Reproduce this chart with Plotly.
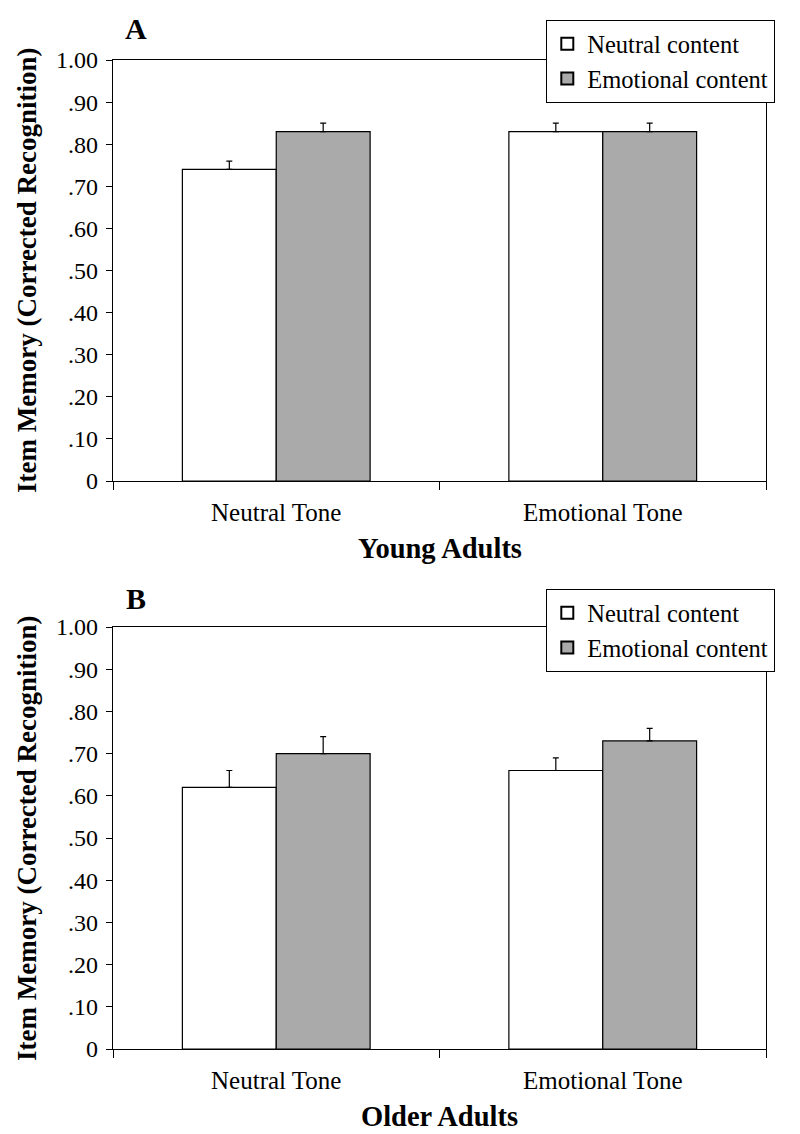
import plotly.graph_objects as go

categories = ["Neutral Tone", "Emotional Tone"]
series_names = ["Neutral content", "Emotional content"]
young_neutral = [0.74, 0.83]
young_emotional = [0.83, 0.83]
young_neutral_err = [0.02, 0.02]
young_emotional_err = [0.02, 0.02]
older_neutral = [0.62, 0.66]
older_emotional = [0.70, 0.73]
older_neutral_err = [0.04, 0.03]
older_emotional_err = [0.04, 0.03]
ytick_vals = [0, 0.1, 0.2, 0.3, 0.4, 0.5, 0.6, 0.7, 0.8, 0.9, 1.0]
ytick_text = ["0", ".10", ".20", ".30", ".40", ".50", ".60", ".70", ".80", ".90", "1.00"]

# page body has an 8px default margin; size the figure to fit the window
OFF = 8
W, H = 800 - OFF, 1134 - OFF
FONT = "Liberation Serif"
colors = ["#ffffff", "#aaaaaa"]

def px_x(p):
    return (p - OFF) / W

def px_y(p):
    return 1 - (p - OFF) / H

fig = go.Figure()

panels = [
    ("x", "y", "legend", young_neutral, young_emotional, young_neutral_err, young_emotional_err),
    ("x2", "y2", "legend2", older_neutral, older_emotional, older_neutral_err, older_emotional_err),
]
for xa, ya, lg, vn, ve, en, ee in panels:
    for name, vals, err, col in [(series_names[0], vn, en, colors[0]), (series_names[1], ve, ee, colors[1])]:
        fig.add_trace(go.Bar(
            x=categories, y=vals, name=name, xaxis=xa, yaxis=ya, legend=lg,
            marker=dict(color=col, line=dict(color="#000000", width=1.2)),
            error_y=dict(type="data", symmetric=False, array=err, arrayminus=[0] * len(err),
                         color="#000000", thickness=1.2, width=3),
        ))

xdom = [px_x(113), px_x(766)]
axis_common_x = dict(
    showline=True, linecolor="#000000", linewidth=1.3, mirror=True,
    ticks="outside", ticklen=8, tickcolor="#000000", tickwidth=1.3,
    tickson="boundaries", showgrid=False, zeroline=False,
    tickfont=dict(family=FONT, size=25, color="#000000"),
    ticklabelstandoff=9, automargin=False, domain=xdom,
)
axis_common_y = dict(
    showline=True, linecolor="#000000", linewidth=1.3, mirror=True,
    ticks="outside", ticklen=6, tickcolor="#000000", tickwidth=1.3,
    range=[0, 1], tickvals=ytick_vals, ticktext=ytick_text,
    showgrid=False, zeroline=False,
    tickfont=dict(family=FONT, size=24, color="#000000"),
    ticklabelstandoff=3, automargin=False,
)

legend_common = dict(
    xanchor="left", yanchor="top",
    bgcolor="#ffffff", bordercolor="#000000", borderwidth=1.3,
    font=dict(family=FONT, size=24.5, color="#000000"),
    tracegroupgap=0, itemsizing="constant",
)

fig.update_layout(
    width=W, height=H,
    margin=dict(l=0, r=0, t=0, b=0),
    paper_bgcolor="#ffffff", plot_bgcolor="#ffffff",
    barmode="group", bargap=0.425, bargroupgap=0,
    xaxis=dict(**axis_common_x, anchor="y"),
    yaxis=dict(**axis_common_y, domain=[px_y(481), px_y(60)], anchor="x"),
    xaxis2=dict(**axis_common_x, anchor="y2"),
    yaxis2=dict(**axis_common_y, domain=[px_y(1049), px_y(627)], anchor="x2"),
    legend=dict(x=px_x(546), y=px_y(20), **legend_common),
    legend2=dict(x=px_x(546), y=px_y(589), **legend_common),
    showlegend=True,
)

annos = [
    dict(text="<b>A</b>", x=px_x(136), y=px_y(29), size=30, angle=0),
    dict(text="<b>B</b>", x=px_x(136), y=px_y(598), size=30, angle=0),
    dict(text="<b>Item Memory (Corrected Recognition)</b>", x=px_x(27), y=px_y(270), size=27, angle=-90),
    dict(text="<b>Item Memory (Corrected Recognition)</b>", x=px_x(27), y=px_y(838), size=27, angle=-90),
    dict(text="<b>Young Adults</b>", x=px_x(440), y=px_y(548), size=28.5, angle=0),
    dict(text="<b>Older Adults</b>", x=px_x(440), y=px_y(1116), size=28.5, angle=0),
]
for a in annos:
    fig.add_annotation(text=a["text"], x=a["x"], y=a["y"], xref="paper", yref="paper",
                       xanchor="center", yanchor="middle", showarrow=False, textangle=a["angle"],
                       font=dict(family=FONT, size=a["size"], color="#000000"))

fig.write_html("out.html")
